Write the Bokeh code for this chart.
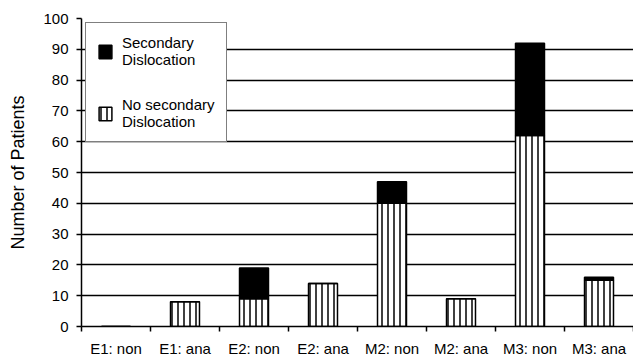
from bokeh.plotting import figure
from bokeh.models import Range1d, FixedTicker, Legend, LegendItem, ColumnDataSource
from bokeh.embed import file_html
from bokeh.resources import INLINE

categories = ["E1: non", "E1: ana", "E2: non", "E2: ana", "M2: non", "M2: ana", "M3: non", "M3: ana"]
no_secondary = [0, 8, 9, 14, 40, 9, 62, 15]
secondary = [0, 0, 10, 0, 7, 0, 30, 1]
y_ticks = [0, 10, 20, 30, 40, 50, 60, 70, 80, 90, 100]

n = len(categories)
centers = [i + 0.5 for i in range(n)]
totals = [a + b for a, b in zip(no_secondary, secondary)]

src = ColumnDataSource(dict(x=centers, ns=no_secondary, tot=totals))

FONT = "Liberation Sans"

p = figure(width=633, height=359, output_backend="svg", toolbar_location=None,
           x_range=Range1d(0, n), y_range=Range1d(0, 100),
           min_border_left=81, min_border_right=0, min_border_top=18, min_border_bottom=30)
p.outline_line_color = None
p.background_fill_color = "white"
p.border_fill_color = "white"

r_ns = p.vbar(x="x", top="ns", bottom=0, width=0.42, source=src,
              fill_color="white", line_color="black", line_width=1.5,
              hatch_pattern="vertical_line", hatch_color="black", hatch_scale=6, hatch_weight=1.5)
r_s = p.vbar(x="x", top="tot", bottom="ns", width=0.42, source=src,
             fill_color="black", line_color="black", line_width=1.5)

# x axis
p.xaxis.ticker = FixedTicker(ticks=centers, minor_ticks=list(range(0, n + 1)))
p.xaxis.major_label_overrides = {c: lab for c, lab in zip(centers, categories)}
p.xaxis.major_tick_line_color = None
p.xaxis.minor_tick_line_color = "black"
p.xaxis.minor_tick_line_width = 1.5
p.xaxis.minor_tick_out = 5
p.xaxis.minor_tick_in = 0
p.xaxis.axis_line_color = "black"
p.xaxis.axis_line_width = 1.5
p.xaxis.major_label_text_font = FONT
p.xaxis.major_label_text_font_size = "15px"
p.xaxis.major_label_text_color = "black"
p.xaxis.major_label_standoff = 7

# y axis
p.yaxis.ticker = FixedTicker(ticks=y_ticks)
p.yaxis.major_tick_out = 5
p.yaxis.major_tick_in = 0
p.yaxis.major_tick_line_width = 1.5
p.yaxis.minor_tick_line_color = None
p.yaxis.axis_line_width = 1.5
p.yaxis.major_label_text_font = FONT
p.yaxis.major_label_text_font_size = "15px"
p.yaxis.major_label_text_color = "black"
p.yaxis.major_label_standoff = 8
p.yaxis.axis_label = "Number of Patients"
p.yaxis.axis_label_text_font = FONT
p.yaxis.axis_label_text_font_size = "18px"
p.yaxis.axis_label_text_font_style = "normal"
p.yaxis.axis_label_text_color = "black"
p.yaxis.axis_label_standoff = 12

p.xgrid.grid_line_color = None
p.ygrid.grid_line_color = "black"
p.ygrid.grid_line_width = 1.6

legend = Legend(items=[
    LegendItem(label="Secondary\nDislocation", renderers=[r_s]),
    LegendItem(label="No secondary\nDislocation", renderers=[r_ns]),
], location="top_left")
legend.border_line_color = "black"
legend.border_line_width = 1.5
legend.background_fill_alpha = 1
legend.label_text_font = FONT
legend.label_text_font_size = "15px"
legend.label_text_color = "black"
legend.glyph_width = 16
legend.glyph_height = 17
legend.spacing = 28
legend.padding = 11
legend.margin = 4
legend.label_standoff = 9
p.add_layout(legend)

open("out.html", "w").write(file_html(p, INLINE))
